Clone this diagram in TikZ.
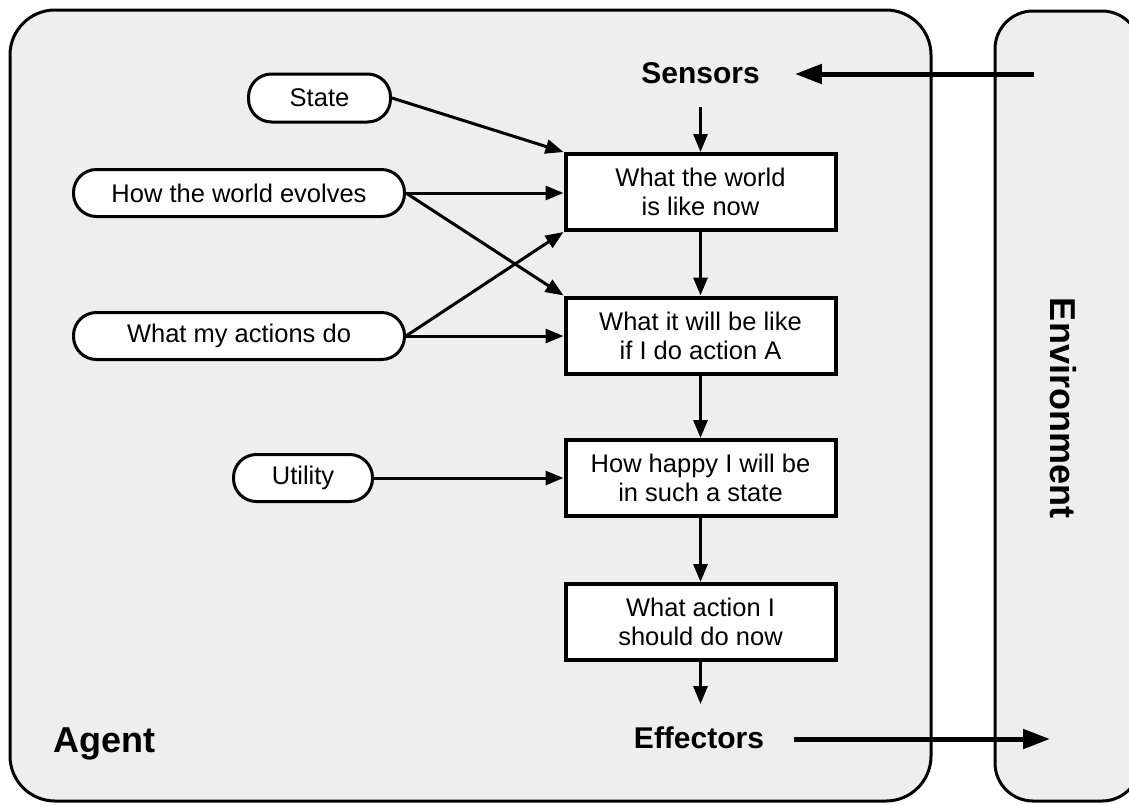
\documentclass[tikz,border=0pt]{standalone}
\usepackage{fontspec}
\setmainfont{Liberation Sans}
\usetikzlibrary{arrows.meta}
\definecolor{panel}{HTML}{EEEEEE}
\begin{document}
\begin{tikzpicture}[x=1pt,y=-1pt,
  panelbox/.style={draw=black,line width=3pt,fill=panel},
  proc/.style={draw=black,line width=4pt,fill=white,minimum width=270pt,minimum height=76pt,
    align=center,inner sep=0pt,font=\fontsize{25.5}{29}\selectfont},
  know/.style={draw=black,line width=3pt,fill=white,rounded corners=23pt,minimum height=47pt,
    inner sep=0pt,font=\fontsize{25.5}{29}\selectfont},
  lbl/.style={inner sep=0pt,font=\bfseries\fontsize{30}{34}\selectfont},
  arr/.style={-{Triangle[length=18pt,width=14pt]},line width=3pt},
  bigarr/.style={-{Triangle[length=27pt,width=19pt]},line width=5pt}]
\useasboundingbox (0,0) rectangle (1129,804);
\fill[white] (0,0) rectangle (1129,804);
% panels
\draw[panelbox,rounded corners=45pt] (10,10) rectangle (931,801);
\draw[panelbox,rounded corners=38pt] (995,11) rectangle (1140,801);
% labels
\node[lbl,anchor=base] (sens) at (700.5,83) {Sensors};
\node[lbl,anchor=base] (eff) at (699,748) {Effectors};
\node[lbl,anchor=base west,font=\bfseries\fontsize{36}{40}\selectfont] (agent) at (53,752) {Agent};
\node[lbl,rotate=-90,font=\bfseries\fontsize{36}{40}\selectfont] (env) at (1063,408) {Environment};
\coordinate (envin) at (1034,74);
\coordinate (envout) at (1050,739);
% process boxes
\node[proc] (b1) at (700.5,192) {What the world\\is like now};
\node[proc] (b2) at (700.5,335.5) {What it will be like\\if I do action A};
\node[proc] (b3) at (700.5,478) {How happy I will be\\in such a state};
\node[proc] (b4) at (700.5,622) {What action I\\should do now};
% knowledge nodes
\node[know,minimum width=142pt,minimum height=48pt] (state) at (319.5,98) {State};
\node[know,minimum width=331pt] (hwe) at (239,193) {How the world evolves};
\node[know,minimum width=331pt] (wmad) at (239,336) {What my actions do};
\node[know,minimum width=139pt] (util) at (303,478) {Utility};
% connectors
\draw[bigarr,shorten >=35pt] (envin) -- (envin -| sens.east);
\draw[arr,shorten <=24pt] (b1.north |- sens.south) -- (b1.north);
\draw[arr] (b1) -- (b2);
\draw[arr] (b2) -- (b3);
\draw[arr] (b3) -- (b4);
\draw[arr,shorten >=22pt] (b4.south) -- (b4.south |- eff.north);
\draw[bigarr,shorten <=30pt] (eff.east |- envout) -- (envout);
\draw[arr] (state.east) -- (b1.north west);
\draw[arr] (hwe.east) -- (hwe.east -| b1.west);
\draw[arr] (hwe.east) -- (b2.north west);
\draw[arr] (wmad.east) -- (b1.south west);
\draw[arr] (wmad.east) -- (wmad.east -| b2.west);
\draw[arr] (util.east) -- (util.east -| b3.west);
\end{tikzpicture}
\end{document}
